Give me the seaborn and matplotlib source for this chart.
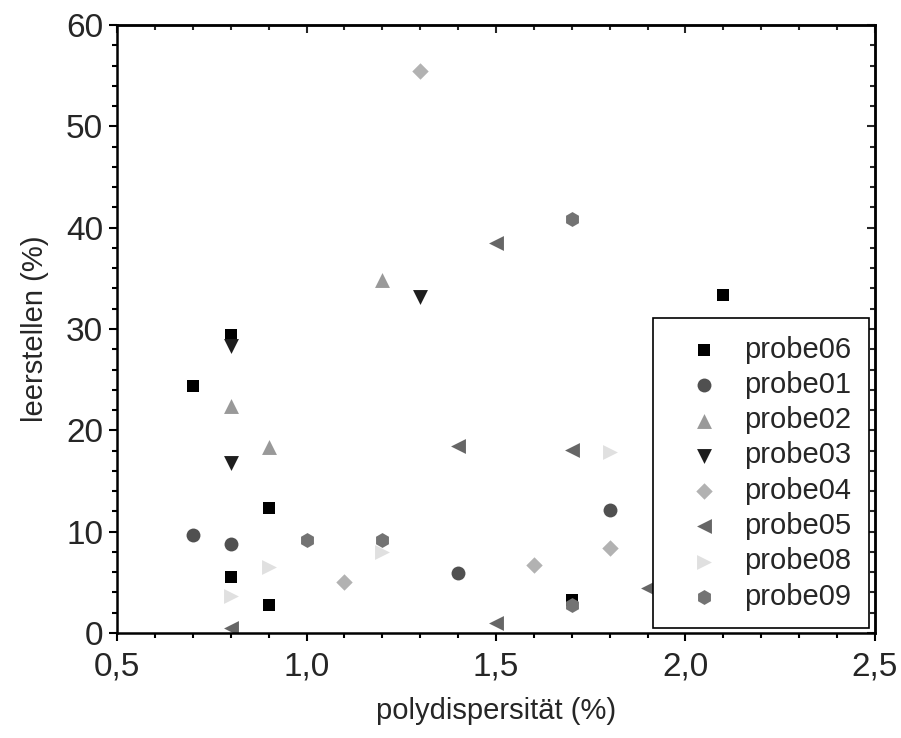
import seaborn as sns
import matplotlib.pyplot as plt
import matplotlib.ticker as mticker
import pandas as pd

sns.set_theme(style="white")
plt.rcParams['font.family'] = ['Liberation Sans', 'DejaVu Sans']

# data
probes = ["probe06", "probe01", "probe02", "probe03", "probe04", "probe05", "probe08", "probe09"]

probe06_x = [0.7, 0.8, 0.8, 0.9, 0.9, 1.7, 2.1]
probe06_y = [24.4, 29.4, 5.5, 12.3, 2.8, 3.3, 33.4]
probe01_x = [0.7, 0.8, 1.4, 1.8]
probe01_y = [9.7, 8.8, 5.95, 12.1]
probe02_x = [0.8, 0.9, 1.2]
probe02_y = [22.4, 18.4, 34.85]
probe03_x = [0.8, 0.8, 1.3]
probe03_y = [28.3, 16.8, 33.2]
probe04_x = [1.1, 1.3, 1.6, 1.8]
probe04_y = [5.0, 55.5, 6.7, 8.4]
probe05_x = [0.8, 1.4, 1.5, 1.5, 1.7, 1.9]
probe05_y = [0.5, 18.5, 38.5, 0.96, 18.1, 4.4]
probe08_x = [0.8, 0.9, 1.2, 1.8]
probe08_y = [3.65, 6.5, 8.0, 17.9]
probe09_x = [1.0, 1.2, 1.7, 1.7]
probe09_y = [9.15, 9.15, 40.9, 2.8]

series = {
    "probe06": (probe06_x, probe06_y),
    "probe01": (probe01_x, probe01_y),
    "probe02": (probe02_x, probe02_y),
    "probe03": (probe03_x, probe03_y),
    "probe04": (probe04_x, probe04_y),
    "probe05": (probe05_x, probe05_y),
    "probe08": (probe08_x, probe08_y),
    "probe09": (probe09_x, probe09_y),
}
rows = []
for name in probes:
    xs, ys = series[name]
    for x, y in zip(xs, ys):
        rows.append({"poly": x, "leer": y, "probe": name})
df = pd.DataFrame(rows)

colors = {"probe06": "#000000", "probe01": "#505050", "probe02": "#999999",
          "probe03": "#1e1e1e", "probe04": "#b2b2b2", "probe05": "#666666",
          "probe08": "#e0e0e0", "probe09": "#737373"}
markers = {"probe06": "s", "probe01": "o", "probe02": "^", "probe03": "v",
           "probe04": "D", "probe05": "<", "probe08": ">", "probe09": "h"}
sizes = {"s": 85, "o": 100, "^": 115, "v": 115, "D": 70, "<": 115, ">": 115, "h": 115}

fig = plt.figure(figsize=(9.01, 7.38), dpi=100)
ax = fig.add_axes([0.1299, 0.1423, 0.8412, 0.8238])

for name in probes:
    sub = df[df["probe"] == name]
    m = markers[name]
    sns.scatterplot(data=sub, x="poly", y="leer", color=colors[name], marker=m,
                    s=sizes[m], linewidth=0, label=name, ax=ax)

ax.set_xlim(0.5, 2.5)
ax.set_ylim(0, 60)
ax.xaxis.set_major_locator(mticker.MultipleLocator(0.5))
ax.xaxis.set_minor_locator(mticker.MultipleLocator(0.1))
ax.yaxis.set_major_locator(mticker.MultipleLocator(10))
ax.yaxis.set_minor_locator(mticker.MultipleLocator(2))
ax.xaxis.set_major_formatter(mticker.FuncFormatter(lambda v, p: f"{v:.1f}".replace(".", ",")))

ax.tick_params(which="both", direction="out", width=1.5, labelsize=24, color="black",
               bottom=True, left=True, top=False, right=False)
ax.tick_params(which="major", length=6, pad=4)
ax.tick_params(which="minor", length=3.5)
ax.tick_params(axis="x", which="major", pad=7)
for sp in ax.spines.values():
    sp.set_linewidth(1.8)
    sp.set_color("black")

# inward ticks on top and right
top = ax.secondary_xaxis("top")
top.xaxis.set_major_locator(mticker.MultipleLocator(0.5))
top.xaxis.set_minor_locator(mticker.MultipleLocator(0.1))
top.tick_params(which="both", direction="in", width=1.5, labeltop=False)
top.tick_params(which="major", length=6)
top.tick_params(which="minor", length=3.5)
top.spines["top"].set_linewidth(1.8)
right = ax.secondary_yaxis("right")
right.yaxis.set_major_locator(mticker.MultipleLocator(10))
right.yaxis.set_minor_locator(mticker.MultipleLocator(2))
right.tick_params(which="both", direction="in", width=1.5, labelright=False)
right.tick_params(which="major", length=6)
right.tick_params(which="minor", length=3.5)
right.spines["right"].set_linewidth(1.8)

ax.set_xlabel("polydispersität (%)", fontsize=21, labelpad=11)
ax.set_ylabel("leerstellen (%)", fontsize=21, labelpad=12)

leg = ax.legend(loc="lower right", bbox_to_anchor=(0.992, 0.008), fontsize=21,
                frameon=True, fancybox=False, shadow=False, borderpad=0.6,
                labelspacing=0.25, handletextpad=0.22, borderaxespad=0,
                handlelength=2.3, markerscale=1.0)
leg.get_frame().set_edgecolor("black")
leg.get_frame().set_linewidth(1.2)
leg.get_frame().set_alpha(1)

fig.savefig("out.png", dpi=100)
